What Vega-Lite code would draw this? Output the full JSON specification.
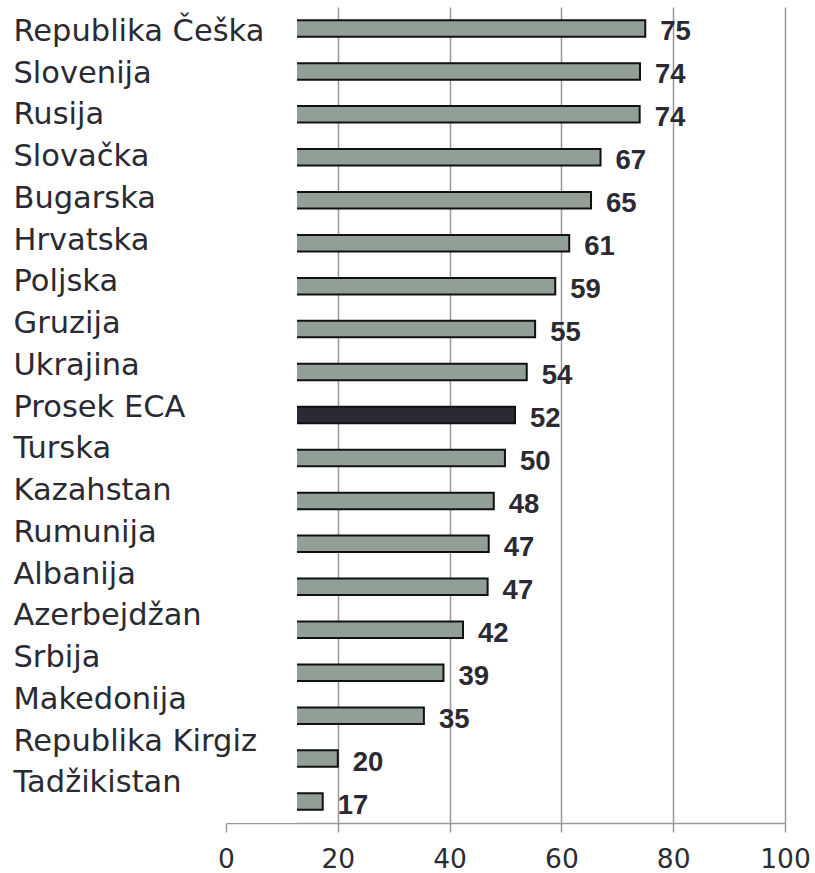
{
  "$schema": "https://vega.github.io/schema/vega-lite/v6.json",
  "width": 559,
  "height": 816,
  "autosize": {"type": "none"},
  "padding": {"left": 226, "top": 7, "right": 30, "bottom": 50},
  "background": "white",
  "config": {"view": {"stroke": null}},
  "data": {
    "values": [
      {"country": "Republika Češka", "value": 75, "kind": "country"},
      {"country": "Slovenija", "value": 74.06, "kind": "country"},
      {"country": "Rusija", "value": 74, "kind": "country"},
      {"country": "Slovačka", "value": 67, "kind": "country"},
      {"country": "Bugarska", "value": 65.3, "kind": "country"},
      {"country": "Hrvatska", "value": 61.4, "kind": "country"},
      {"country": "Poljska", "value": 58.9, "kind": "country"},
      {"country": "Gruzija", "value": 55.3, "kind": "country"},
      {"country": "Ukrajina", "value": 53.8, "kind": "country"},
      {"country": "Prosek ECA", "value": 51.7, "kind": "avg"},
      {"country": "Turska", "value": 49.9, "kind": "country"},
      {"country": "Kazahstan", "value": 47.9, "kind": "country"},
      {"country": "Rumunija", "value": 47, "kind": "country"},
      {"country": "Albanija", "value": 46.8, "kind": "country"},
      {"country": "Azerbejdžan", "value": 42.4, "kind": "country"},
      {"country": "Srbija", "value": 38.9, "kind": "country"},
      {"country": "Makedonija", "value": 35.4, "kind": "country"},
      {"country": "Republika Kirgiz", "value": 20, "kind": "country"},
      {"country": "Tadžikistan", "value": 17.3, "kind": "country"}
    ]
  },
  "layer": [
    {
      "mark": {"type": "bar", "height": 16.5, "stroke": "#111111", "strokeWidth": 2},
      "encoding": {
        "y": {"field": "country", "type": "nominal", "sort": null, "scale": {"paddingInner": 0, "paddingOuter": 0}, "axis": null},
        "x": {
          "field": "value", "type": "quantitative", "title": null,
          "scale": {"domain": [0, 100], "nice": false, "zero": true},
          "axis": {
            "values": [0, 20, 40, 60, 80, 100],
            "grid": true,
            "gridColor": "#999999",
            "gridWidth": 1.5,
            "gridOpacity": {"condition": {"test": "datum.value === 0", "value": 0}, "value": 1},
            "domainColor": "#999999",
            "domainWidth": 1.5,
            "tickColor": "#999999",
            "tickWidth": 1.5,
            "tickSize": 9,
            "labelFont": "DejaVu Sans",
            "labelFontSize": 26.5,
            "labelColor": "#2b2b33",
            "labelPadding": 14,
            "labelFlush": false,
            "labelOverlap": false
          }
        },
        "color": {
          "field": "kind", "type": "nominal", "legend": null,
          "scale": {"domain": ["country", "avg"], "range": ["#929f96", "#2b2a33"]}
        }
      }
    },
    {
      "mark": {"type": "rect", "color": "white", "stroke": null},
      "encoding": {
        "x": {"datum": -0.6, "type": "quantitative", "title": null},
        "x2": {"datum": 12.65}
      }
    },
    {
      "mark": {"type": "text", "align": "left", "baseline": "middle", "dx": 15, "dy": 4, "font": "Liberation Sans", "fontWeight": "bold", "fontSize": 27.5, "color": "#2b2a33"},
      "encoding": {
        "y": {"field": "country", "type": "nominal", "sort": null, "scale": {"paddingInner": 0, "paddingOuter": 0}, "axis": null},
        "x": {"field": "value", "type": "quantitative", "title": null},
        "text": {"field": "value", "type": "quantitative", "format": ".0f"}
      }
    },
    {
      "mark": {"type": "bar", "opacity": 0},
      "encoding": {
        "y": {
          "field": "country", "type": "nominal", "sort": null, "title": null,
          "scale": {"paddingInner": 0, "paddingOuter": 0.2725, "align": 0.18},
          "axis": {
            "orient": "left",
            "zindex": 1,
            "domain": false,
            "ticks": false,
            "tickSize": 0,
            "labelAlign": "left",
            "labelBaseline": "middle",
            "labelPadding": 213,
            "labelLimit": 400,
            "labelFont": "DejaVu Sans",
            "labelFontSize": 30.5,
            "labelColor": "#2a2a33"
          }
        },
        "x": {"datum": 0, "type": "quantitative", "title": null}
      }
    }
  ],
  "resolve": {"scale": {"y": "independent"}}
}
